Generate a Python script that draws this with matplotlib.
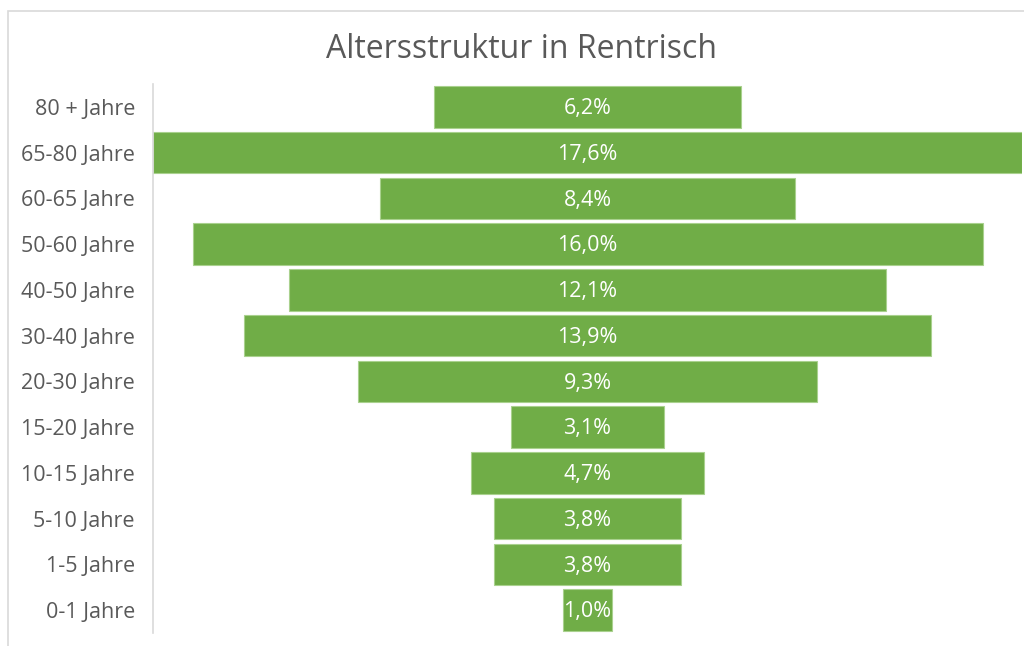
import matplotlib
matplotlib.use("Agg")
import matplotlib.pyplot as plt
from matplotlib.patches import Rectangle

categories = ["80 + Jahre", "65-80 Jahre", "60-65 Jahre", "50-60 Jahre", "40-50 Jahre",
              "30-40 Jahre", "20-30 Jahre", "15-20 Jahre", "10-15 Jahre", "5-10 Jahre",
              "1-5 Jahre", "0-1 Jahre"]
values = [6.2, 17.6, 8.4, 16.0, 12.1, 13.9, 9.3, 3.1, 4.7, 3.8, 3.8, 1.0]
title = "Altersstruktur in Rentrisch"

plt.rcParams['font.family'] = ['Open Sans', 'DejaVu Sans']
W, H = 1024, 646
fig = plt.figure(figsize=(W / 100, H / 100), dpi=100)
fig.patches.append(Rectangle((8 / W, -0.1), 1.2, (H - 11) / H + 0.1, transform=fig.transFigure,
                             fill=False, edgecolor="#D9D9D9", linewidth=1.2))

ax = fig.add_axes([153 / W, (H - 633) / H, (1022 - 153) / W, (633 - 84) / H])
green = "#70AD47"
y = list(range(len(categories)))
lefts = [-v / 2 for v in values]
ax.barh(y, values, left=lefts, height=0.91, color=green, edgecolor="#A9D18E", linewidth=0.8)
for yi, v in zip(y, values):
    ax.text(0, yi + 0.04, f"{v:.1f}%".replace(".", ","), ha="center", va="center",
            color="white", fontsize=15.5)

ax.set_xlim(-8.8, 8.8)
ax.set_ylim(len(categories) - 0.5, -0.5)
ax.set_yticks(y)
ax.set_yticklabels(categories, fontsize=15.5, color="#595959")
ax.tick_params(axis="y", length=0, pad=13)
ax.set_xticks([])
for s in ["top", "right", "bottom"]:
    ax.spines[s].set_visible(False)
ax.spines["left"].set_color("#D9D9D9")
ax.spines["left"].set_linewidth(1.2)

fig.text(522 / W, 1 - 50 / H, title, ha="center", va="center", fontsize=23, color="#595959")

fig.savefig("out.png", dpi=100)
